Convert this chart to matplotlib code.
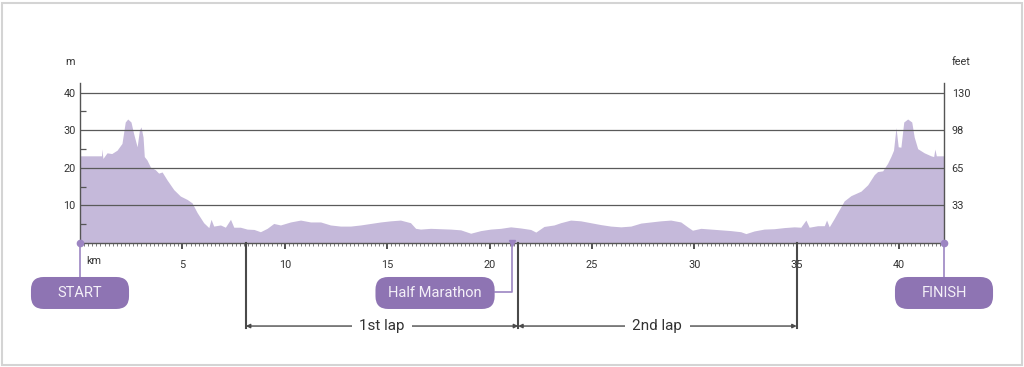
import matplotlib
matplotlib.use('Agg')
from matplotlib import pyplot as plt
from matplotlib.patches import FancyBboxPatch, Rectangle
from matplotlib.ticker import MultipleLocator
from matplotlib import transforms

plt.rcParams['font.family'] = ['Roboto', 'DejaVu Sans']

# elevation profile (km, metres)
km = [0.0, 1.05, 1.07, 1.12, 1.32, 1.55, 1.81, 2.05, 2.21, 2.33, 2.49, 2.62, 2.79,
      2.90, 2.98, 3.08, 3.14, 3.27, 3.44, 3.68, 3.84, 4.01, 4.25, 4.58, 4.90, 5.23,
      5.47, 5.72, 6.04, 6.29, 6.40, 6.53, 6.86, 7.10, 7.35, 7.51, 7.83, 8.16, 8.50,
      8.81, 9.14, 9.46, 9.79, 10.28, 10.77, 11.26, 11.75, 12.23, 12.72, 13.21, 13.70,
      14.19, 14.68, 15.17, 15.65, 16.14, 16.39, 16.63, 17.12, 17.61, 18.10, 18.59,
      19.08, 19.57, 20.05, 20.54, 21.03, 21.52, 22.01, 22.26, 22.66, 23.15, 23.47,
      23.96, 24.45, 24.94, 25.43, 25.92, 26.41, 26.90, 27.39, 27.87, 28.36, 28.85,
      29.34, 29.67, 29.91, 30.32, 30.81, 31.30, 31.78, 32.27, 32.52, 32.92, 33.41,
      33.90, 34.39, 34.88, 35.20, 35.45, 35.61, 36.02, 36.35, 36.46, 36.59, 36.83,
      37.08, 37.32, 37.65, 38.14, 38.47, 38.79, 38.95, 39.20, 39.44, 39.60, 39.73,
      39.85, 39.96, 40.09, 40.23, 40.42, 40.62, 40.74, 40.91, 41.23, 41.56, 41.69,
      41.75, 41.82, 42.195]
elev = [23.2, 23.2, 25.0, 22.5, 24.0, 23.8, 24.7, 26.5, 32.2, 33.0, 32.2, 29.1, 25.6,
        30.0, 30.9, 28.2, 23.0, 22.1, 20.2, 19.5, 18.6, 18.9, 16.8, 14.2, 12.5, 11.6,
        10.7, 8.1, 5.4, 4.1, 6.3, 4.5, 4.8, 4.2, 6.3, 4.2, 4.2, 3.7, 3.6,
        3.0, 3.9, 5.2, 4.8, 5.6, 6.1, 5.6, 5.6, 4.8, 4.5, 4.5, 4.8,
        5.2, 5.6, 5.9, 6.1, 5.4, 3.9, 3.7, 3.9, 3.8, 3.7, 3.5,
        2.6, 3.3, 3.7, 3.9, 4.3, 4.0, 3.6, 2.9, 4.4, 4.8, 5.4,
        6.1, 5.9, 5.4, 4.9, 4.5, 4.3, 4.5, 5.3, 5.6, 5.9, 6.1,
        5.6, 4.3, 3.4, 3.9, 3.7, 3.5, 3.3, 3.0, 2.5, 3.2, 3.7,
        3.8, 4.1, 4.3, 4.2, 6.1, 4.2, 4.6, 4.6, 6.1, 4.3, 6.5,
        8.9, 11.2, 12.6, 13.8, 15.5, 18.2, 19.0, 19.2, 21.2, 23.0, 24.7,
        30.7, 25.6, 25.5, 32.2, 33.0, 32.2, 28.2, 25.1, 24.0, 23.2, 23.0,
        25.0, 23.2, 23.2]

metre_ticks = [10, 20, 30, 40]
feet_labels = ['33', '65', '98', '130']
km_ticks = [5, 10, 15, 20, 25, 30, 35, 40]

race_km = 42.195
half_km = 21.0975
lap_marks = [8.1, 21.4, 35.0]
lap_names = ['1st lap', '2nd lap']

marker_names = ['START', 'Half Marathon', 'FINISH']
marker_centres = [0.0, 17.34, race_km]

FILL = '#c5b9da'
PURPLE = '#8e74b3'
LINE_PURPLE = '#9c85c2'
DARK = '#4a4a4a'
TEXT = '#333333'

fig = plt.figure(figsize=(10.24, 3.67), dpi=100)
W, H = 1024, 367
ax_left, ax_right, ax_bottom, ax_top = 80, 944, 243, 83.3
ax = fig.add_axes([ax_left / W, (H - ax_bottom) / H,
                   (ax_right - ax_left) / W, (ax_bottom - ax_top) / H])

ax.fill_between(km, elev, 0, color=FILL, lw=0, zorder=1)
for v in metre_ticks:
    ax.axhline(v, color='#5a5a5a', lw=0.9, zorder=2)

ax.set_xlim(0, race_km)
ax.set_ylim(0, 42.5)

ax.spines['top'].set_visible(False)
for side in ['left', 'right', 'bottom']:
    ax.spines[side].set_color('#555555')
    ax.spines[side].set_linewidth(1)

ax.set_yticks(metre_ticks)
ax.set_yticklabels([str(v) for v in metre_ticks])
ax.set_yticks([5, 15, 25, 35], minor=True)
ax.tick_params(axis='y', which='major', length=0, pad=3, labelsize=7.8, labelcolor=TEXT)
ax.tick_params(axis='y', which='minor', direction='in', length=4, width=0.9,
               color='#555555', right=True)

ax.set_xticks(km_ticks)
ax.set_xticklabels([str(v) for v in km_ticks])
ax.xaxis.set_minor_locator(MultipleLocator(0.2))
ax.tick_params(axis='x', which='major', length=4.5, width=1.2, color='#333333',
               pad=7.5, labelsize=7.8, labelcolor=TEXT)
ax.tick_params(axis='x', which='minor', length=2.5, width=0.6, color='#666666')

ax2 = ax.twinx()
ax2.set_ylim(ax.get_ylim())
ax2.set_yticks(metre_ticks)
ax2.set_yticklabels(feet_labels)
ax2.tick_params(axis='y', length=0, pad=5.5, labelsize=7.8, labelcolor=TEXT)
for side in ['top', 'left', 'right', 'bottom']:
    ax2.spines[side].set_visible(False)

# end dots on the baseline
ax.plot([0, race_km], [0, 0], 'o', ms=4.5, color=LINE_PURPLE, clip_on=False, zorder=5)

trans = transforms.blended_transform_factory(ax.transData, ax.transAxes)

ax.text(-0.47, 1.133, 'm', transform=trans, ha='center', va='center', fontsize=7.8, color=TEXT)
ax.text(race_km + 0.85, 1.133, 'feet', transform=trans, ha='center', va='center',
        fontsize=7.8, color=TEXT)
ax.text(0.3, -0.113, 'km', transform=trans, ha='left', va='center', fontsize=7.8, color=TEXT)

# purple label boxes
px_km = (ax_right - ax_left) / race_km
px_ax = ax_bottom - ax_top
aspect = px_km / px_ax
box_w = [4.79, 5.82, 4.79]
box_h = 32 / px_ax
box_y = -0.313
for name, cx, w in zip(marker_names, marker_centres, box_w):
    box = FancyBboxPatch((cx - w / 2, box_y - box_h / 2), w, box_h,
                         boxstyle='round,pad=0,rounding_size=0.62',
                         mutation_aspect=aspect, transform=trans,
                         fc=PURPLE, ec='none', clip_on=False, zorder=4)
    ax.add_patch(box)
    ax.text(cx, box_y, name, transform=trans, ha='center', va='center',
            fontsize=10.5, color='#f4f0f8', zorder=5)

# connectors to the boxes
ax.plot([0, 0], [0, box_y + box_h / 2], transform=trans, color=LINE_PURPLE,
        lw=1.2, clip_on=False, zorder=3)
ax.plot([race_km, race_km], [0, box_y + box_h / 2], transform=trans, color=LINE_PURPLE,
        lw=1.2, clip_on=False, zorder=3)
hm_right = marker_centres[1] + box_w[1] / 2
ax.plot([half_km, half_km, hm_right], [0, -0.305, -0.305], transform=trans,
        color=LINE_PURPLE, lw=1.2, clip_on=False, zorder=3)
ax.plot([half_km], [0.0], 'v', transform=trans, ms=4, color=LINE_PURPLE,
        clip_on=False, zorder=5)

# lap brackets
lap_y = -0.52
for x in lap_marks:
    ax.plot([x, x], [0, -0.535], transform=trans, color=DARK, lw=1.5,
            clip_on=False, zorder=3)
for name, a, b in zip(lap_names, lap_marks[:-1], lap_marks[1:]):
    ax.annotate('', xy=(a, lap_y), xytext=(b, lap_y), xycoords=trans, textcoords=trans,
                arrowprops=dict(arrowstyle='<|-|>', color=DARK, lw=1,
                                mutation_scale=6, shrinkA=0, shrinkB=0),
                annotation_clip=False)
    ax.text((a + b) / 2, lap_y, name, transform=trans, ha='center', va='center',
            fontsize=11, color=TEXT, zorder=4,
            bbox=dict(boxstyle='square,pad=0.5', fc='white', ec='none'))

fig.patches.append(Rectangle((1.5 / W, 2.5 / H), 1020 / W, 362 / H,
                             transform=fig.transFigure, fill=False,
                             ec='#d4d4d4', lw=1.5))

fig.savefig('out.png', dpi=100, facecolor='white')
